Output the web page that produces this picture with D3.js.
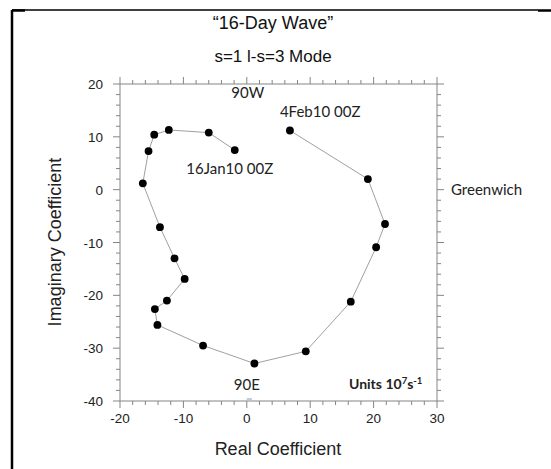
<!DOCTYPE html>
<html>
<head>
<meta charset="utf-8">
<script src="https://cdn.jsdelivr.net/npm/d3@7"></script>
<style>
  body { margin: 0; background: #fff; }
  svg { display: block; }
</style>
</head>
<body>
<svg id="chart"></svg>
<script>
// daily positions, 16 Jan 2010 00Z -> 4 Feb 2010 00Z
var realCoef = [-1.9, -6.0, -12.3, -14.6, -15.5, -16.4, -13.7, -11.4, -9.8, -12.6,
                -14.5, -14.1, -6.9, 1.2, 9.3, 16.4, 20.4, 21.8, 19.1, 6.8];
var imagCoef = [7.5, 10.8, 11.3, 10.4, 7.3, 1.2, -7.1, -13.0, -16.9, -21.0,
                -22.6, -25.6, -29.5, -32.9, -30.6, -21.2, -10.9, -6.5, 2.0, 11.2];
var xTicks = [-20, -10, 0, 10, 20, 30];
var yTicks = [-40, -30, -20, -10, 0, 10, 20];
var startLabel = "16Jan10 00Z";
var endLabel = "4Feb10 00Z";

var w = 551, h = 469;
var svg = d3.select("#chart").attr("width", w).attr("height", h);

var x = d3.scaleLinear().domain([-20, 30]).range([120, 437]);
var y = d3.scaleLinear().domain([-40, 20]).range([401, 84]);

var axisCol = "#858585";
var arial = "'Liberation Sans', Arial, sans-serif";
var calib = "Lato, 'Open Sans', sans-serif";

// page border (slide frame)
svg.append("line").attr("x1", 12).attr("x2", 12).attr("y1", 10).attr("y2", h)
  .attr("stroke", "#000").attr("stroke-width", 2.5);
svg.append("line").attr("x1", 12).attr("x2", 538).attr("y1", 10).attr("y2", 10)
  .attr("stroke", "#000").attr("stroke-width", 1.3);
svg.append("line").attr("x1", 12).attr("x2", 25).attr("y1", 10.5).attr("y2", 10.5)
  .attr("stroke", "#000").attr("stroke-width", 2.5);
svg.append("line").attr("x1", 538).attr("x2", w).attr("y1", 10.5).attr("y2", 10.5)
  .attr("stroke", "#000").attr("stroke-width", 2.5);

// ticks, all outward, majors every 10, minors every 2
function minor(lo, hi) { return d3.range(lo, hi + 0.001, 2).filter(function(v){ return v % 10 !== 0; }); }

var axes = svg.append("g").attr("stroke", axisCol).attr("stroke-width", 1).attr("fill", "none");
axes.append("rect").attr("x", x(-20)).attr("y", y(20))
  .attr("width", x(30) - x(-20)).attr("height", y(-40) - y(20));

function xt(vals, len) {
  vals.forEach(function(v){
    axes.append("line").attr("x1", x(v)).attr("x2", x(v)).attr("y1", y(-40)).attr("y2", y(-40) + len);
    axes.append("line").attr("x1", x(v)).attr("x2", x(v)).attr("y1", y(20)).attr("y2", y(20) - len);
  });
}
function yt(vals, len) {
  vals.forEach(function(v){
    axes.append("line").attr("y1", y(v)).attr("y2", y(v)).attr("x1", x(-20)).attr("x2", x(-20) - len);
    axes.append("line").attr("y1", y(v)).attr("y2", y(v)).attr("x1", x(30)).attr("x2", x(30) + len);
  });
}
xt(xTicks, 7); xt(minor(-20, 30), 4);
yt(yTicks, 7); yt(minor(-40, 20), 4);

// tick labels
svg.append("g").selectAll("text").data(xTicks).enter().append("text")
  .attr("x", function(d){ return x(d); }).attr("y", 423)
  .attr("text-anchor", "middle").attr("font-family", arial).attr("font-size", 13.5)
  .attr("fill", "#222").text(function(d){ return d; });
svg.append("g").selectAll("text").data(yTicks).enter().append("text")
  .attr("x", 103).attr("y", function(d){ return y(d) + 5; })
  .attr("text-anchor", "end").attr("font-family", arial).attr("font-size", 13.5)
  .attr("fill", "#222").text(function(d){ return d; });

// titles
svg.append("text").attr("x", 273).attr("y", 29).attr("text-anchor", "middle")
  .attr("font-family", arial).attr("font-size", 18).attr("fill", "#111")
  .text("\u201C16-Day Wave\u201D");
svg.append("text").attr("x", 273).attr("y", 62).attr("text-anchor", "middle")
  .attr("font-family", arial).attr("font-size", 17).attr("fill", "#111")
  .text("s=1 l-s=3 Mode");
svg.append("text").attr("x", 278).attr("y", 455).attr("text-anchor", "middle")
  .attr("font-family", arial).attr("font-size", 18).attr("fill", "#222")
  .text("Real Coefficient");
svg.append("text").attr("transform", "translate(61,242) rotate(-90)").attr("text-anchor", "middle")
  .attr("font-family", arial).attr("font-size", 18).attr("fill", "#222")
  .text("Imaginary Coefficient");

// trajectory
var pts = realCoef.map(function(r, i){ return [r, imagCoef[i]]; });
svg.append("path").datum(pts)
  .attr("d", d3.line().x(function(d){ return x(d[0]); }).y(function(d){ return y(d[1]); }))
  .attr("fill", "none").attr("stroke", "#a0a0a0").attr("stroke-width", 1);
svg.append("g").selectAll("circle").data(pts).enter().append("circle")
  .attr("cx", function(d){ return x(d[0]); }).attr("cy", function(d){ return y(d[1]); })
  .attr("r", 3.9).attr("fill", "#000");

// annotations
function note(txt, px, py, anchor, size, weight) {
  return svg.append("text").attr("x", px).attr("y", py).attr("text-anchor", anchor || "start")
    .attr("font-family", calib).attr("font-size", size || 15).attr("font-weight", weight || "normal")
    .attr("fill", "#222").text(txt);
}
note("90W", x(0) + 1, y(20) + 14, "middle");
note("90E", x(0), y(-40) - 11, "middle");
svg.append("line").attr("x1", x(0)).attr("x2", x(0.8)).attr("y1", y(-40) - 2).attr("y2", y(-40) - 2)
  .attr("stroke", "#7a9ab8").attr("stroke-width", 1);
note(startLabel, x(realCoef[0]) - 5, y(imagCoef[0]) + 24, "middle");
note(endLabel, x(realCoef[realCoef.length - 1]) - 10, y(imagCoef[imagCoef.length - 1]) - 13, "start");
note("Greenwich", x(30) + 14, y(0) + 5, "start");
var u = note("Units 10", 349, 389, "start", 14, "bold");
u.append("tspan").attr("dy", -5).attr("font-size", 9.5).text("7");
u.append("tspan").attr("dy", 5).text("s");
u.append("tspan").attr("dy", -5).attr("font-size", 9.5).text("-1");
</script>
</body>
</html>
